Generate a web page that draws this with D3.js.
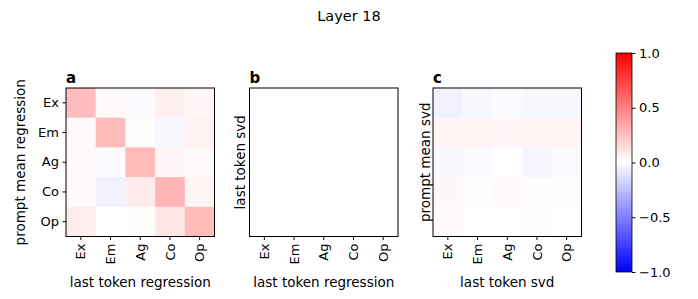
<!DOCTYPE html>
<html><head><meta charset="utf-8">
<script src="https://cdn.jsdelivr.net/npm/d3@7"></script>
<style>body{margin:0;background:#fff}svg{display:block;font-family:"DejaVu Sans",sans-serif}</style>
</head><body><svg id="c" width="698" height="299"></svg>
<script>
const traits = ["Ex","Em","Ag","Co","Op"];
const matA = [
  [0.26, 0.02, -0.02, 0.06, 0.03],
  [0.02, 0.27, 0.01, -0.03, 0.05],
  [0.02, -0.02, 0.27, 0.03, 0.02],
  [0.02, -0.05, 0.08, 0.29, 0.04],
  [0.07, 0.00, 0.01, 0.10, 0.27]
];
const matB = [
  [0,0,0,0,0],[0,0,0,0,0],[0,0,0,0,0],[0,0,0,0,0],[0,0,0,0,0]
];
const matC = [
  [-0.06, -0.03, -0.02, -0.03, -0.03],
  [0.04, 0.04, 0.03, 0.04, 0.04],
  [-0.03, -0.02, 0.00, -0.04, -0.02],
  [0.03, 0.01, 0.02, 0.01, 0.01],
  [0.02, 0.00, 0.00, 0.01, 0.00]
];
const panelLetters = ["a","b","c"];
const xLabels = ["last token regression","last token regression","last token svd"];
const yLabels = ["prompt mean regression","last token svd","prompt mean svd"];
const cbTicks = [1.0, 0.5, 0.0, -0.5, -1.0];
const title = "Layer 18";

(function(){
const svg = d3.select("#c");
const color = d3.scaleLinear().domain([-1,0,1]).range(["#0000ff","#ffffff","#ff0000"]);
const mats = [matA, matB, matC];
const lefts = [66, 249.5, 433];
const yLabOff = [-41.5, -4.5, -3.5];
const pTop = 88, size = 148.5;
const FT = 13, FL = 13.5;

svg.append("text").attr("x",349).attr("y",21).attr("text-anchor","middle").attr("font-size",14.5).text(title);

mats.forEach((m,i)=>{
  const g = svg.append("g").attr("transform",`translate(${lefts[i]},${pTop})`);
  const x = d3.scaleBand().domain(traits).range([0,size]);
  const y = d3.scaleBand().domain(traits).range([0,size]);
  m.forEach((row,r)=>row.forEach((v,c)=>{
    g.append("rect").attr("x",x(traits[c])).attr("y",y(traits[r]))
      .attr("width",x.bandwidth()+0.3).attr("height",y.bandwidth()+0.3)
      .attr("fill",color(v));
  }));
  g.append("rect").attr("width",size).attr("height",size).attr("fill","none").attr("stroke","#000").attr("stroke-width",1);
  const xa = g.append("g").attr("transform",`translate(0,${size})`).call(d3.axisBottom(x).tickSize(3.5).tickPadding(3.5));
  xa.select(".domain").remove();
  xa.selectAll("text").attr("font-size",FT).attr("font-family","DejaVu Sans")
    .attr("transform","rotate(-90)").attr("text-anchor","end").attr("dy","0.35em").attr("x",-7).attr("y",0);
  if(i===0){
    const ya = g.append("g").call(d3.axisLeft(y).tickSize(3.5).tickPadding(3.5));
    ya.select(".domain").remove();
    ya.selectAll("text").attr("font-size",FT).attr("font-family","DejaVu Sans");
  }
  g.append("text").attr("x",size/2).attr("y",size+50).attr("text-anchor","middle").attr("font-size",FL).text(xLabels[i]);
  g.append("text").attr("transform",`translate(${yLabOff[i]},${size/2}) rotate(-90)`).attr("text-anchor","middle").attr("font-size",FL).text(yLabels[i]);
  g.append("text").attr("x",0).attr("y",-5).attr("font-size",15).attr("font-weight","bold").text(panelLetters[i]);
});

const cbX = 616, cbW = 16, cbTop = 53, cbBot = 272;
const defs = svg.append("defs");
const grad = defs.append("linearGradient").attr("id","bwr").attr("x1",0).attr("y1",1).attr("x2",0).attr("y2",0);
[-1,0,1].forEach((v,k)=>grad.append("stop").attr("offset",k/2).attr("stop-color",color(v)));
svg.append("rect").attr("x",cbX).attr("y",cbTop).attr("width",cbW).attr("height",cbBot-cbTop).attr("fill","url(#bwr)").attr("stroke","#000").attr("stroke-width",0.8);
const cy = d3.scaleLinear().domain([-1,1]).range([cbBot,cbTop]);
const cax = svg.append("g").attr("transform",`translate(${cbX+cbW},0)`).call(d3.axisRight(cy).tickValues(cbTicks).tickSize(3.5).tickPadding(3.5).tickFormat(d=>d3.format(".1f")(d).replace("-","\u2212")));
cax.select(".domain").remove();
cax.selectAll("text").attr("font-size",FT).attr("font-family","DejaVu Sans");
})();
</script></body></html>
